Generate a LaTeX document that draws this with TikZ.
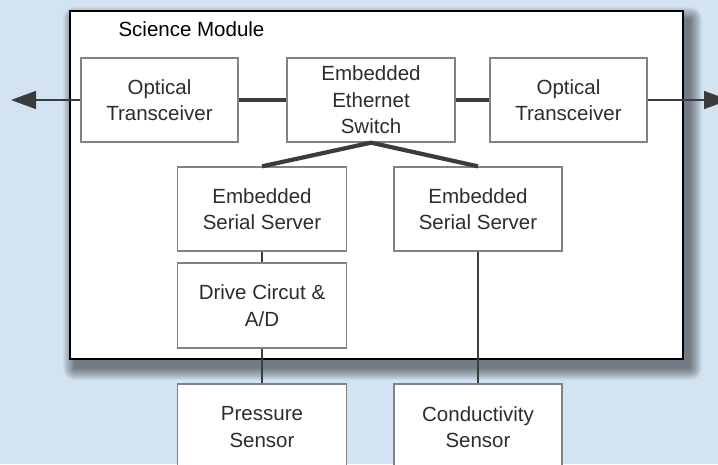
\documentclass[tikz,border=0pt]{standalone}
\usepackage{fontspec}
\setmainfont{Liberation Sans}
\usetikzlibrary{arrows.meta}
\definecolor{bgblue}{RGB}{211,227,241}
\definecolor{txtgray}{RGB}{45,45,45}
\definecolor{boxgray}{RGB}{130,130,130}
\definecolor{linegray}{RGB}{60,60,60}
\tikzset{
  blk/.style={draw=boxgray, line width=1.3pt, fill=white, align=center,
    text=txtgray, inner sep=0pt,
    font=\fontsize{20.5}{26.5}\selectfont},
  thinline/.style={draw=linegray, line width=1.6pt},
  thickline/.style={draw=linegray, line width=4.2pt, line join=round},
  outarrow/.style={thinline, -{Triangle[length=25pt,width=18pt]}},
}
\begin{document}
\begin{tikzpicture}[x=1pt,y=-1pt]
\useasboundingbox (0,0) rectangle (718,464);
\clip (0,0) rectangle (718,464);
\fill[bgblue] (0,0) rectangle (718,464);
% shadow of the module
\foreach \i in {0,...,12}{
  \fill[black, opacity=0.045, rounded corners=\i pt]
    (75-\i,19-\i) rectangle (690+\i,368+\i);
}
% module box
\node[draw=black, line width=2.6pt, fill=white, inner sep=0pt,
  minimum width=613pt, minimum height=348pt] (mod) at (376.5,185) {};
\node[anchor=west, text=black, font=\fontsize{20.5}{24}\selectfont] (title) at (115,29) {Science Module};
% blocks
\node[blk, minimum width=157pt, minimum height=84pt] (optL) at (159.5,100) {Optical\\Transceiver};
\node[blk, minimum width=168pt, minimum height=84pt] (sw) at (371,100) {Embedded\\Ethernet\\Switch};
\node[blk, minimum width=157pt, minimum height=84pt] (optR) at (568.5,100) {Optical\\Transceiver};
\node[blk, minimum width=169pt, minimum height=84pt] (serL) at (262,209) {Embedded\\Serial Server};
\node[blk, minimum width=168pt, minimum height=84pt] (serR) at (478,209) {Embedded\\Serial Server};
\node[blk, minimum width=169pt, minimum height=85pt] (drive) at (262,305.5) {Drive Circut \&\\A/D};
\node[blk, minimum width=169pt, minimum height=86pt] (press) at (262,427) {Pressure\\Sensor};
\node[blk, minimum width=168pt, minimum height=86pt] (cond) at (478,427) {Conductivity\\Sensor};
\coordinate (tipL) at (11,100);
\coordinate (tipR) at (729,100);
% connectors
\draw[outarrow] (optL.west) -- (tipL);
\draw[outarrow] (optR.east) -- (tipR);
\draw[thickline] (optL.east) -- (sw.west);
\draw[thickline] (sw.east) -- (optR.west);
\draw[thickline] (serL.north) -- (sw.south) -- (serR.north);
\draw[thinline] (serL.south) -- (drive.north);
\draw[thinline] (drive.south) -- (press.north);
\draw[thinline] (serR.south) -- (cond.north);
\end{tikzpicture}
\end{document}
